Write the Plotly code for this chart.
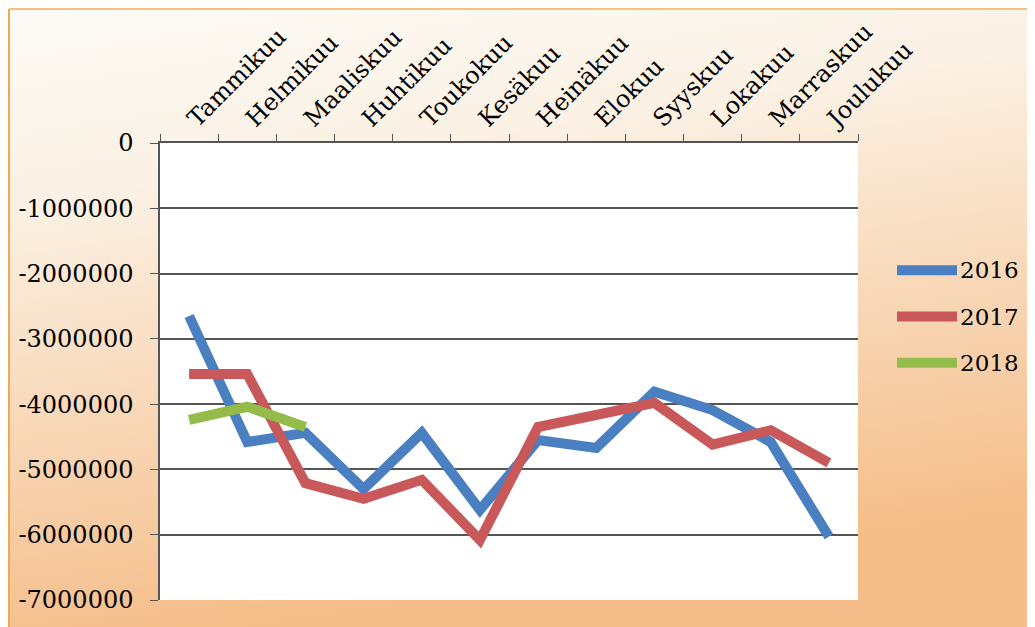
import base64
import plotly.graph_objects as go

months = ["Tammikuu", "Helmikuu", "Maaliskuu", "Huhtikuu", "Toukokuu", "Kesäkuu",
          "Heinäkuu", "Elokuu", "Syyskuu", "Lokakuu", "Marraskuu", "Joulukuu"]

v2016 = [-2650000, -4580000, -4440000, -5300000, -4440000, -5620000,
         -4550000, -4670000, -3810000, -4090000, -4580000, -6030000]
v2017 = [-3540000, -3540000, -5210000, -5450000, -5160000, -6080000,
         -4350000, -4170000, -3980000, -4620000, -4400000, -4900000]
v2018 = [-4240000, -4040000, -4350000]

years = ["2016", "2017", "2018"]
colors = ["#4a7fc1", "#c9585a", "#95bb4a"]

y_ticks = [0, -1000000, -2000000, -3000000, -4000000, -5000000, -6000000, -7000000]
y_labels = ["0", "-1000000", "-2000000", "-3000000", "-4000000", "-5000000", "-6000000", "-7000000"]

# page body adds 8px, so the figure is 8px smaller than the window
W, H = 1027, 619
L, R, T, B = 152, 15, 135, 27
pw, ph = W - L - R, H - T - B
main_right = 698 / pw
font = "DejaVu Serif"

fig = go.Figure()
for name, vals, col in zip(years, [v2016, v2017, v2018], colors):
    fig.add_trace(go.Scatter(x=months[:len(vals)], y=vals, mode="lines", name=name,
                             line=dict(color=col, width=10), showlegend=False))

# hand-made legend with long line samples
for i, (name, col) in enumerate(zip(years, colors)):
    yy = len(years) - i
    fig.add_trace(go.Scatter(x=[0, 1], y=[yy, yy], mode="lines", xaxis="x2", yaxis="y2",
                             line=dict(color=col, width=10), showlegend=False, hoverinfo="skip"))
    fig.add_annotation(x=1, y=yy, xref="x2", yref="y2", text=name, showarrow=False,
                       xanchor="left", xshift=1, font=dict(family=font, size=23, color="black"))

svg = ('<svg xmlns="http://www.w3.org/2000/svg" width="1035" height="627">'
       '<defs><linearGradient id="g" x1="0" y1="0" x2="0.25" y2="1">'
       '<stop offset="0" stop-color="#fdfbf6"/><stop offset="0.3" stop-color="#fbf1e4"/>'
       '<stop offset="0.65" stop-color="#f8d7b6"/><stop offset="1" stop-color="#f5bd89"/>'
       '</linearGradient></defs><rect width="1035" height="627" fill="url(#g)"/></svg>')
src = "data:image/svg+xml;base64," + base64.b64encode(svg.encode()).decode()

fig.update_layout(
    width=W, height=H, margin=dict(l=L, r=R, t=T, b=B, autoexpand=False),
    paper_bgcolor="#fbf3e8", plot_bgcolor="rgba(0,0,0,0)",
    font=dict(family=font, size=23, color="black"),
    images=[dict(source=src, xref="paper", yref="paper", x=-L / pw, y=1 + T / ph,
                 sizex=W / pw, sizey=H / ph, xanchor="left", yanchor="top",
                 sizing="stretch", layer="below")],
    shapes=[
        dict(type="rect", xref="paper", yref="paper", x0=0, x1=main_right, y0=0, y1=1,
             fillcolor="white", line=dict(width=0), layer="below"),
        dict(type="line", xref="paper", yref="paper", x0=(-L + 1) / pw, x1=(-L + 1) / pw,
             y0=-B / ph, y1=1 + (T - 1) / ph, line=dict(color="#f2a94e", width=2), layer="below"),
        dict(type="line", xref="paper", yref="paper", x0=(-L + 1) / pw, x1=(W - L) / pw,
             y0=1 + (T - 1) / ph, y1=1 + (T - 1) / ph, line=dict(color="#f4c27e", width=2), layer="below"),
    ],
    xaxis=dict(domain=[0, main_right], side="top", type="category", range=[-0.5, 11.5],
               tickangle=-45, automargin=False,
               showline=True, linecolor="#555", linewidth=1.5, ticks="outside", ticklen=7,
               tickcolor="#555", tickson="boundaries", showgrid=False,
               tickfont=dict(family=font, size=24), anchor="y"),
    yaxis=dict(range=[-7000000, 0], tickvals=y_ticks, ticktext=y_labels, showline=True,
               automargin=False,
               linecolor="#555", linewidth=1.5, ticks="outside", ticklen=8, tickcolor="#555",
               showgrid=True, gridcolor="#555", gridwidth=1.5, zeroline=False,
               ticklabelstandoff=12, tickfont=dict(family=font, size=24), anchor="x"),
    xaxis2=dict(domain=[(897 - 160) / pw, (957 - 160) / pw], range=[0, 1], visible=False, anchor="y2"),
    yaxis2=dict(domain=[(600 - 386) / ph, (600 - 247) / ph], range=[0.5, 3.5], visible=False, anchor="x2"),
)

fig.write_html("out.html")
